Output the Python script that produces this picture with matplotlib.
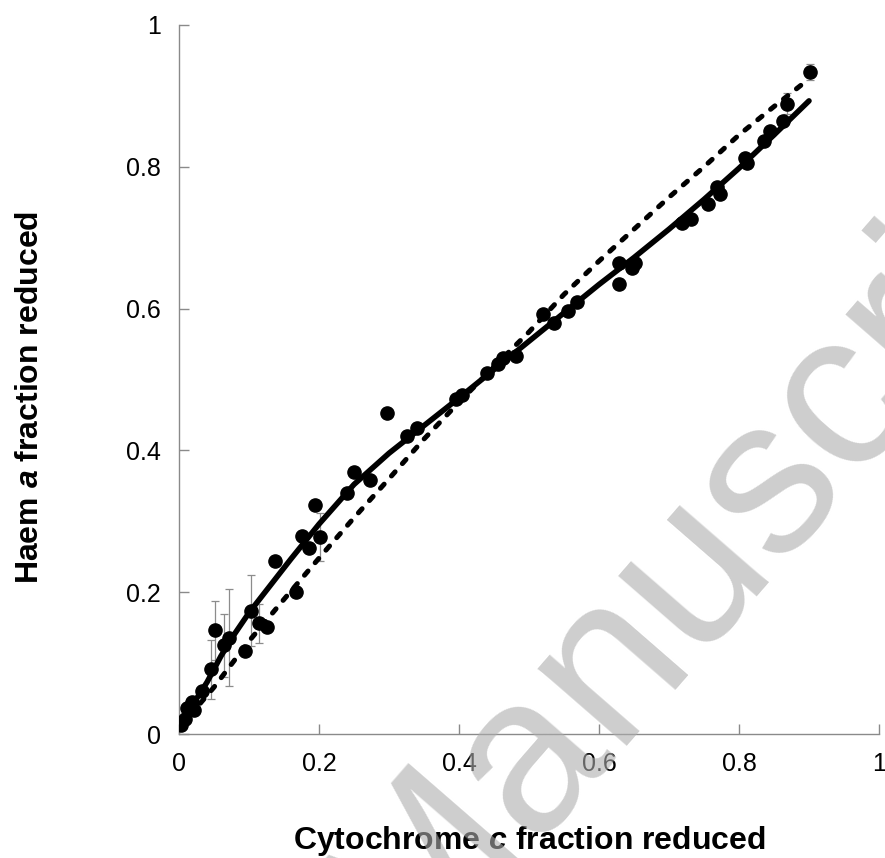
import matplotlib
matplotlib.use('Agg')
import matplotlib.pyplot as plt
import numpy as np

# ---------------- data ----------------
cyt_c = [0.003, 0.008, 0.012, 0.019, 0.022, 0.033, 0.045, 0.052, 0.064, 0.071,
         0.094, 0.103, 0.114, 0.126, 0.137, 0.167, 0.175, 0.186, 0.194, 0.201,
         0.240, 0.250, 0.273, 0.297, 0.326, 0.340, 0.395, 0.404, 0.440, 0.455,
         0.463, 0.482, 0.520, 0.535, 0.556, 0.569, 0.628, 0.628, 0.647, 0.652,
         0.718, 0.732, 0.756, 0.768, 0.773, 0.809, 0.811, 0.835, 0.844, 0.863,
         0.868, 0.901]
haem_a = [0.013, 0.021, 0.036, 0.045, 0.034, 0.061, 0.091, 0.146, 0.125, 0.136,
          0.117, 0.174, 0.156, 0.151, 0.244, 0.200, 0.279, 0.262, 0.323, 0.278,
          0.340, 0.369, 0.358, 0.453, 0.420, 0.431, 0.472, 0.478, 0.509, 0.522,
          0.530, 0.533, 0.592, 0.580, 0.596, 0.610, 0.665, 0.634, 0.657, 0.665,
          0.721, 0.726, 0.747, 0.772, 0.762, 0.813, 0.806, 0.836, 0.851, 0.865,
          0.889, 0.934]
haem_err = [0, 0, 0, 0, 0, 0, 0.042, 0.042, 0.044, 0.069,
            0, 0.050, 0.027, 0, 0, 0, 0, 0, 0, 0.034,
            0, 0, 0, 0, 0, 0, 0, 0, 0, 0,
            0, 0, 0, 0, 0, 0, 0, 0, 0, 0,
            0, 0, 0, 0, 0, 0, 0, 0, 0, 0,
            0.015, 0.011]

solid_fit_x = [0.0, 0.02, 0.04, 0.06, 0.08, 0.10, 0.13, 0.16, 0.20, 0.25, 0.30,
               0.35, 0.40, 0.45, 0.50, 0.55, 0.60, 0.65, 0.70, 0.75, 0.80, 0.85, 0.90]
solid_fit_y = [0.012, 0.042, 0.073, 0.110, 0.142, 0.171, 0.209, 0.247, 0.296, 0.352, 0.396,
               0.435, 0.474, 0.514, 0.554, 0.594, 0.634, 0.672, 0.712, 0.754, 0.798, 0.845, 0.893]

dashed_fit_x = [0.0, 0.05, 0.10, 0.15, 0.20, 0.25, 0.30, 0.35, 0.40, 0.45, 0.50,
                0.55, 0.60, 0.65, 0.70, 0.75, 0.80, 0.85, 0.90]
dashed_fit_y = [0.008, 0.066, 0.131, 0.190, 0.248, 0.305, 0.360, 0.416, 0.468, 0.518, 0.567,
                0.620, 0.667, 0.712, 0.757, 0.800, 0.845, 0.885, 0.924]

tick_vals = [0, 0.2, 0.4, 0.6, 0.8, 1]
tick_labels = ['0', '0.2', '0.4', '0.6', '0.8', '1']

x_label = r'Cytochrome $c$ fraction reduced'
y_label = r'Haem $a$ fraction reduced'
watermark = 'Manuscript'

# ---------------- style ----------------
plt.rcParams['font.family'] = ['Liberation Sans', 'DejaVu Sans']
plt.rcParams['mathtext.fontset'] = 'custom'
plt.rcParams['mathtext.it'] = 'Liberation Sans:italic:bold'
plt.rcParams['mathtext.rm'] = 'Liberation Sans:bold'

W, H = 885, 858
fig = plt.figure(figsize=(W / 100, H / 100), dpi=100)
ax = fig.add_axes([179 / W, 1 - 734 / H, 700 / W, (734 - 25) / H])

axis_grey = '#8a8a8a'

x_arr = np.array(cyt_c)
y_arr = np.array(haem_a)
e_arr = np.array(haem_err)
m = e_arr > 0
ax.errorbar(x_arr[m], y_arr[m], yerr=e_arr[m], fmt='none', ecolor='#8c8c8c',
            elinewidth=0.9, capsize=3.2, capthick=0.9, zorder=1)

ax.plot(solid_fit_x, solid_fit_y, color='black', lw=4.0,
        solid_capstyle='round', zorder=2)
ax.plot(dashed_fit_x, dashed_fit_y, color='black', lw=3.6,
        linestyle=(0, (1.1, 2.2)), dash_capstyle='round', zorder=2)
ax.plot(cyt_c, haem_a, 'o', color='black', ms=9.5, zorder=3)

ax.set_xlim(0, 1)
ax.set_ylim(0, 1)
ax.set_xticks(tick_vals)
ax.set_xticklabels(tick_labels)
ax.set_yticks(tick_vals)
ax.set_yticklabels(tick_labels)

for s in ['top', 'right']:
    ax.spines[s].set_visible(False)
for s in ['left', 'bottom']:
    ax.spines[s].set_color(axis_grey)
    ax.spines[s].set_linewidth(1.0)

ax.tick_params(axis='both', direction='in', length=7, width=1.0,
               color=axis_grey, labelcolor='black', labelsize=18)
ax.tick_params(axis='x', pad=13)
ax.tick_params(axis='y', pad=13)

ax.set_xlabel(x_label, fontsize=23, fontweight='bold', va='baseline')
ax.xaxis.set_label_coords(0.5, (734 - 849) / 709)
ax.set_ylabel(y_label, fontsize=23, fontweight='bold', va='center')
ax.yaxis.set_label_coords((30 - 179) / 700, (734 - 397) / 709)

fig.text(722 / W, 1 - 528 / H, watermark, fontsize=160, color='#adadad', alpha=0.6,
         rotation=49, rotation_mode='anchor', ha='center', va='center', zorder=10)

fig.savefig('out.png', dpi=100)
